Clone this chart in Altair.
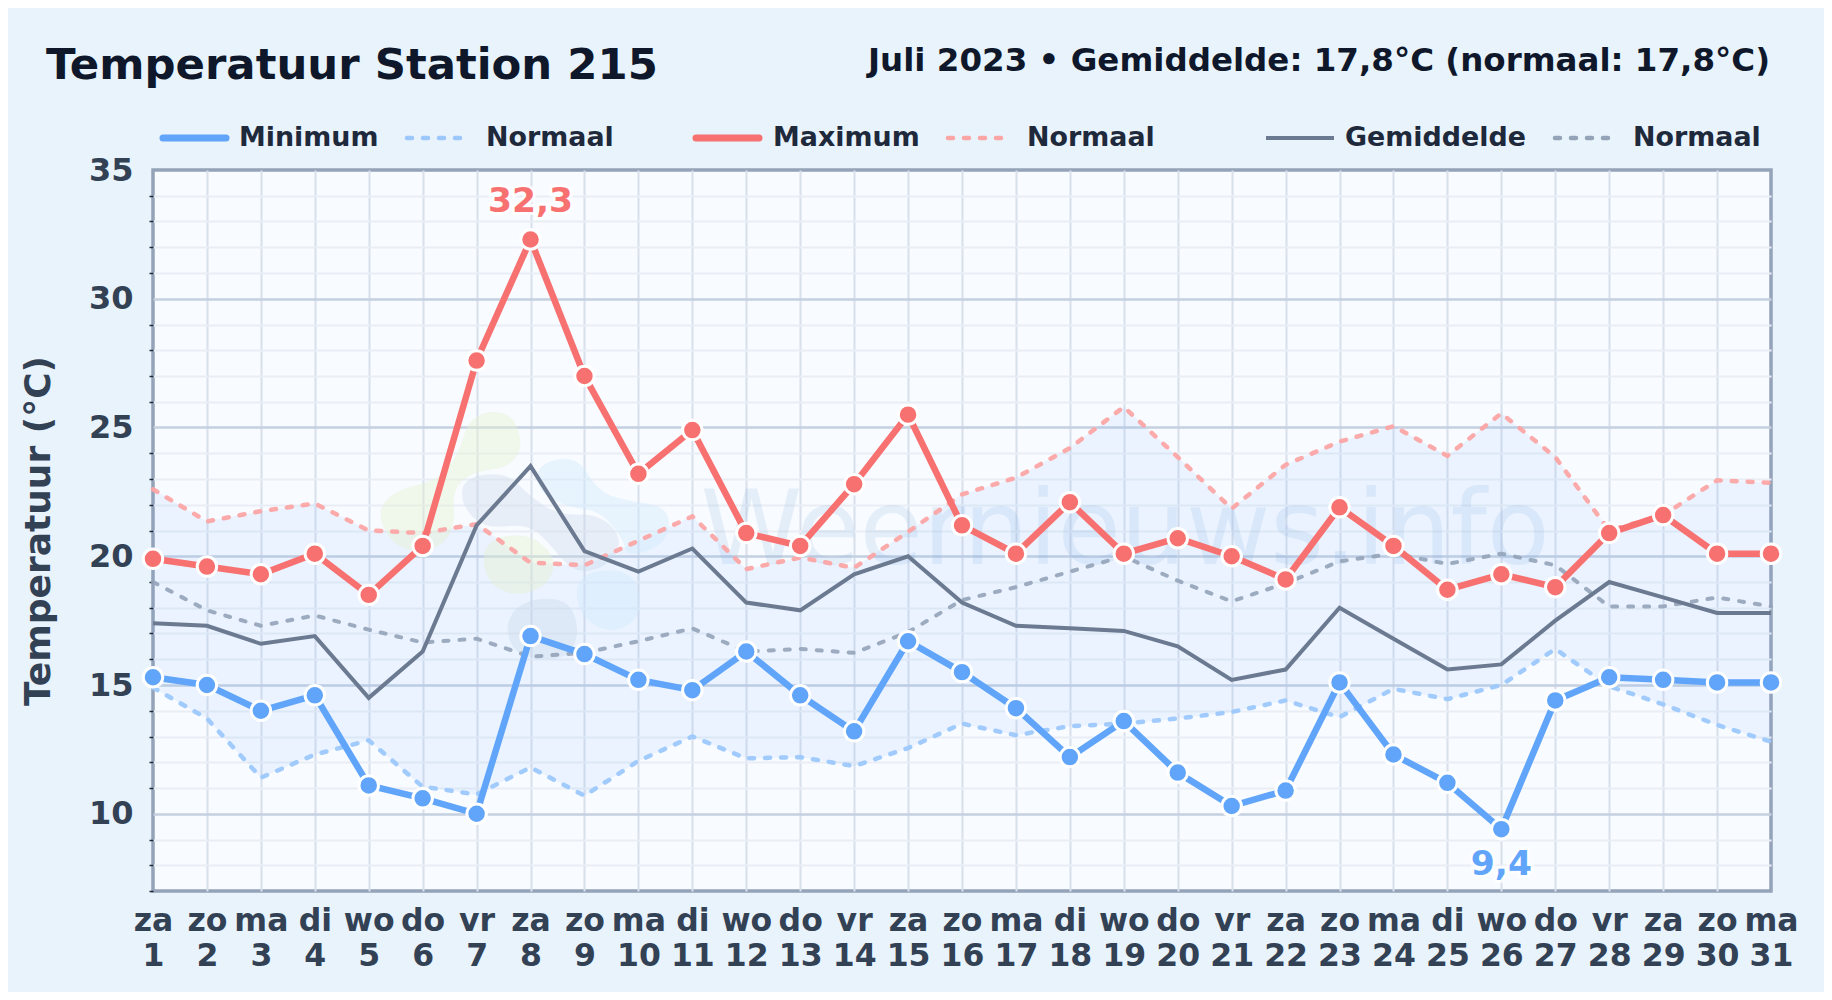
import altair as alt
import pandas as pd

DAYS = list(range(1, 32))
WEEKDAYS = ["za","zo","ma","di","wo","do","vr","za","zo","ma","di","wo","do","vr","za","zo","ma","di","wo","do","vr","za","zo","ma","di","wo","do","vr","za","zo","ma"]
T_MIN = [15.3,15.0,14.0,14.6,11.1,10.6,10.0,16.9,16.2,15.2,14.8,16.3,14.6,13.2,16.7,15.5,14.1,12.2,13.6,11.6,10.3,10.9,15.1,12.3,11.2,9.4,14.4,15.3,15.2,15.1,15.1]
T_MAX = [19.9,19.6,19.3,20.1,18.5,20.4,27.6,32.3,27.0,23.2,24.9,20.9,20.4,22.8,25.5,21.2,20.1,22.1,20.1,20.7,20.0,19.1,21.9,20.4,18.7,19.3,18.8,20.9,21.6,20.1,20.1]
T_MEAN = [17.4,17.3,16.6,16.9,14.5,16.3,21.2,23.5,20.2,19.4,20.3,18.2,17.9,19.3,20.0,18.2,17.3,17.2,17.1,16.5,15.2,15.6,18.0,16.8,15.6,15.8,17.5,19.0,18.4,17.8,17.8]
N_MIN = [14.9,13.7,11.4,12.3,12.85,11.05,10.75,11.8,10.7,12.05,13.0,12.15,12.2,11.85,12.55,13.5,13.05,13.4,13.5,13.7,13.95,14.4,13.75,14.85,14.45,15.0,16.4,14.95,14.25,13.45,12.8]
N_MAX = [22.6,21.35,21.75,22.05,21.0,20.9,21.25,19.75,19.65,20.6,21.55,19.5,19.95,19.55,20.95,22.4,23.05,24.2,25.8,23.85,21.85,23.55,24.45,25.05,23.9,25.55,23.85,21.0,21.6,22.95,22.85]
N_MEAN = [19.0,17.9,17.3,17.7,17.15,16.65,16.8,16.1,16.25,16.7,17.2,16.3,16.4,16.25,17.05,18.3,18.8,19.4,20.0,19.05,18.25,18.95,19.8,20.1,19.7,20.1,19.65,18.05,18.05,18.4,18.05]

W, H = 1618, 721
PAD = dict(left=145, top=162, right=53, bottom=101)
BG = "#e8f3fc"
INK = "#0f172a"
LAB = "#334155"
FONT = "DejaVu Sans"
BLUE, RED, GREY = "#60a5fa", "#f87171", "#64748b"

df = pd.DataFrame(dict(day=DAYS, tmin=T_MIN, tmax=T_MAX, tmean=T_MEAN, nmin=N_MIN, nmax=N_MAX, nmean=N_MEAN))
xs = alt.Scale(domain=[1, 31], nice=False, zero=False)
ys = alt.Scale(domain=[7, 35], nice=False, zero=False)
X = alt.X("day:Q", scale=xs, title=None)
base = alt.Chart(df)

day_names = "[" + ",".join(f"'{d}'" for d in WEEKDAYS) + "]"
axis_x = alt.Axis(values=DAYS, tickCount=31, grid=True,
                  gridColor={"condition": {"test": "datum.value == 1 || datum.value == 31", "value": "transparent"}, "value": "#d8e0ec"},
                  gridWidth=2, domain=False, ticks=False,
                  labelExpr=f"[{day_names}[datum.value-1], format(datum.value,'d')]",
                  labelFontSize=31.5, labelFontWeight="bold", labelColor=LAB, labelFont=FONT,
                  labelPadding=14, labelLineHeight=35, labelOverlap=False, labelFlush=False, labelBaseline="top")
axis_y = alt.Axis(values=list(range(7, 36)), tickCount=29, domain=False, tickSize=4, tickWidth=1.5,
                  tickColor={"condition": {"test": "datum.value % 5 == 0", "value": "transparent"}, "value": "#1e293b"},
                  grid=True,
                  gridColor={"condition": [{"test": "datum.value == 7 || datum.value == 35", "value": "transparent"},
                                           {"test": "datum.value % 5 == 0", "value": "#c5d0e0"}], "value": "#e9eef5"},
                  gridWidth={"condition": {"test": "datum.value % 5 == 0", "value": 2.5}, "value": 2},
                  labelExpr="datum.value % 5 == 0 ? format(datum.value,'d') : ''",
                  labelFontSize=32, labelFontWeight="bold", labelColor=LAB, labelFont=FONT, labelPadding=16, labelOverlap=False,
                  title="Temperatuur (°C)", titleFontSize=36, titleFontWeight="bold", titleColor=LAB, titleFont=FONT,
                  titlePadding=31)

band = base.mark_area(color="#60a5fa", opacity=0.085, interpolate="linear").encode(
    x=X, y=alt.Y("nmin:Q", scale=ys, axis=axis_y), y2="nmax:Q")
axes = base.mark_rule(opacity=0).encode(x=alt.X("day:Q", scale=xs, title=None, axis=axis_x))

# Watermark logo: smooth outlines, anchored at one centre point through the scales
LOGO_DAY, LOGO_TEMP = [7.87], [20.92]
LOGO_SIZE = 84100
GRN, GRY, SKY = "#e5f0d0", "#cbd9ea", "#d0e9fc"
OUTLINES = [
    (GRN, 0.42, [(330,40),(450,30),(490,130),(450,200),(330,215),(275,270),(285,380),(230,450),(110,450),(45,340),(100,270),(230,240),(290,170)]),
    (GRN, 0.42, [(370,420),(500,395),(590,470),(560,560),(450,590),(370,530)]),
    (GRY, 0.36, [(310,230),(440,215),(510,290),(600,345),(720,340),(790,420),(740,500),(640,520),(560,420),(500,370),(370,385),(300,310)]),
    (GRY, 0.36, [(480,600),(620,590),(660,690),(620,780),(470,770),(430,680)]),
    (SKY, 0.42, [(530,190),(650,165),(710,270),(790,300),(930,320),(920,430),(800,470),(790,420),(720,330),(620,320),(530,270)]),
    (SKY, 0.42, [(680,510),(820,510),(850,640),(760,700),(670,660),(640,570)]),
]

def smooth(points):
    pts = [((x / 3 - 163) / 145, (y / 3 - 132) / 145) for x, y in points]
    mid = lambda a, b: ((a[0] + b[0]) / 2, (a[1] + b[1]) / 2)
    s = mid(pts[-1], pts[0])
    p = f"M{s[0]:.3f},{s[1]:.3f}"
    for i, c in enumerate(pts):
        m = mid(c, pts[(i + 1) % len(pts)])
        p += f"Q{c[0]:.3f},{c[1]:.3f},{m[0]:.3f},{m[1]:.3f}"
    return p + "Z"

logo_df = pd.DataFrame(dict(x=LOGO_DAY, y=LOGO_TEMP))
blobs = [alt.Chart(logo_df).mark_point(shape=smooth(o), size=LOGO_SIZE, filled=True, fill=c, strokeWidth=0, opacity=a).encode(
    x=alt.X("x:Q", scale=xs), y=alt.Y("y:Q", scale=ys)) for c, a, o in OUTLINES]

wm_text = alt.Chart(pd.DataFrame(dict(t=["Weernieuws.info"], x=[11.15], y=[19.7]))).mark_text(
    fontSize=103, fontWeight="normal", font=FONT, color="#7aa7d8", opacity=0.15, align="left", baseline="alphabetic").encode(
    x=alt.X("x:Q", scale=xs), y=alt.Y("y:Q", scale=ys), text="t:N")

def dash_line(f, c, op, d=[5, 11], w=4.5):
    return base.mark_line(color=c, opacity=op, strokeDash=d, strokeWidth=w, strokeCap="round").encode(x=X, y=alt.Y(f"{f}:Q", scale=ys))

n_mean = dash_line("nmean", "#94a3b8", 0.9, w=4)
n_max = dash_line("nmax", "#fca5a5", 0.95)
n_min = dash_line("nmin", "#9cc8fc", 0.95)
l_mean = base.mark_line(color="#6b7a90", strokeWidth=4).encode(x=X, y=alt.Y("tmean:Q", scale=ys))

def main(f, c):
    return [
        base.mark_line(color=c, strokeWidth=6.5).encode(x=X, y=alt.Y(f"{f}:Q", scale=ys)),
        base.mark_point(filled=True, fill=c, stroke="white", strokeWidth=3, size=380, opacity=1).encode(x=X, y=alt.Y(f"{f}:Q", scale=ys)),
    ]

PEAK_DAY, PEAK_VAL = [8], [32.3]
LOW_DAY, LOW_VAL = [26], [9.4]
def note(day, val, lab, c, dy):
    d = pd.DataFrame(dict(day=day, v=val, t=lab))
    kw = dict(fontSize=34.5, fontWeight="bold", font=FONT, align="center", baseline="middle", dy=dy)
    return [
        alt.Chart(d).mark_text(color="white", stroke="white", strokeWidth=6, strokeOpacity=0.8, **kw).encode(x=alt.X("day:Q", scale=xs), y=alt.Y("v:Q", scale=ys), text="t:N"),
        alt.Chart(d).mark_text(color=c, **kw).encode(x=alt.X("day:Q", scale=xs), y=alt.Y("v:Q", scale=ys), text="t:N"),
    ]

# Legend + headers (pixel layout relative to the plot area)
LEG_LABELS = ["Minimum","Normaal","Maximum","Normaal","Gemiddelde","Normaal"]
LEG_LINE_X0 = [10,254,543,795,1113,1402]
LEG_LINE_X1 = [73,312,606,852,1181,1466]
LEG_TEXT_X = [86,333,620,874,1192,1480]
LEG_COL = [BLUE,"#9cc8fc",RED,"#fca5a5","#6b7a90","#94a3b8"]
LEG_W = [7,4.5,7,4.5,4,4.5]
LEG_Y = -32
leg = []
for i, lab in enumerate(LEG_LABELS):
    d = pd.DataFrame(dict(t=[lab]))
    dash = {} if i % 2 == 0 else {"strokeDash": [5, 11]}
    leg.append(alt.Chart(d).mark_rule(color=LEG_COL[i], strokeWidth=LEG_W[i], strokeCap="round" if i != 4 else "butt", **dash).encode(
        x=alt.value(LEG_LINE_X0[i]), x2=alt.value(LEG_LINE_X1[i]), y=alt.value(LEG_Y)))
    leg.append(alt.Chart(d).mark_text(fontSize=26.9, fontWeight="bold", font=FONT, color="#1e293b", align="left", baseline="middle").encode(
        x=alt.value(LEG_TEXT_X[i]), y=alt.value(LEG_Y), text="t:N"))

TITLE = "Temperatuur Station 215"
SUB = "Juli 2023 • Gemiddelde: 17,8°C (normaal: 17,8°C)"
t1 = alt.Chart(pd.DataFrame(dict(t=[TITLE]))).mark_text(fontSize=43.4, fontWeight="bold", font=FONT, color=INK, align="left", baseline="middle").encode(
    x=alt.value(-107), y=alt.value(-104), text="t:N")
t2 = alt.Chart(pd.DataFrame(dict(t=[SUB]))).mark_text(fontSize=32.5, fontWeight="bold", font=FONT, color=INK, align="right", baseline="middle").encode(
    x=alt.value(W - 1), y=alt.value(-109), text="t:N")

layers = [band, axes] + blobs + [wm_text, n_min, n_max, n_mean, l_mean] + main("tmin", BLUE) + main("tmax", RED) \
    + note(PEAK_DAY, PEAK_VAL, ["32,3"], RED, -38) + note(LOW_DAY, LOW_VAL, ["9,4"], BLUE, 36) + leg + [t1, t2]

chart = alt.layer(*layers).resolve_scale(color="independent").properties(
    width=W, height=H, padding=PAD, background=BG,
    autosize=alt.AutoSizeParams(type="none"),
).configure_view(stroke="#94a3b8", strokeWidth=3.5, fill="#f8fbff")

chart.save("out.html", embed_options={"renderer": "svg", "actions": False})
